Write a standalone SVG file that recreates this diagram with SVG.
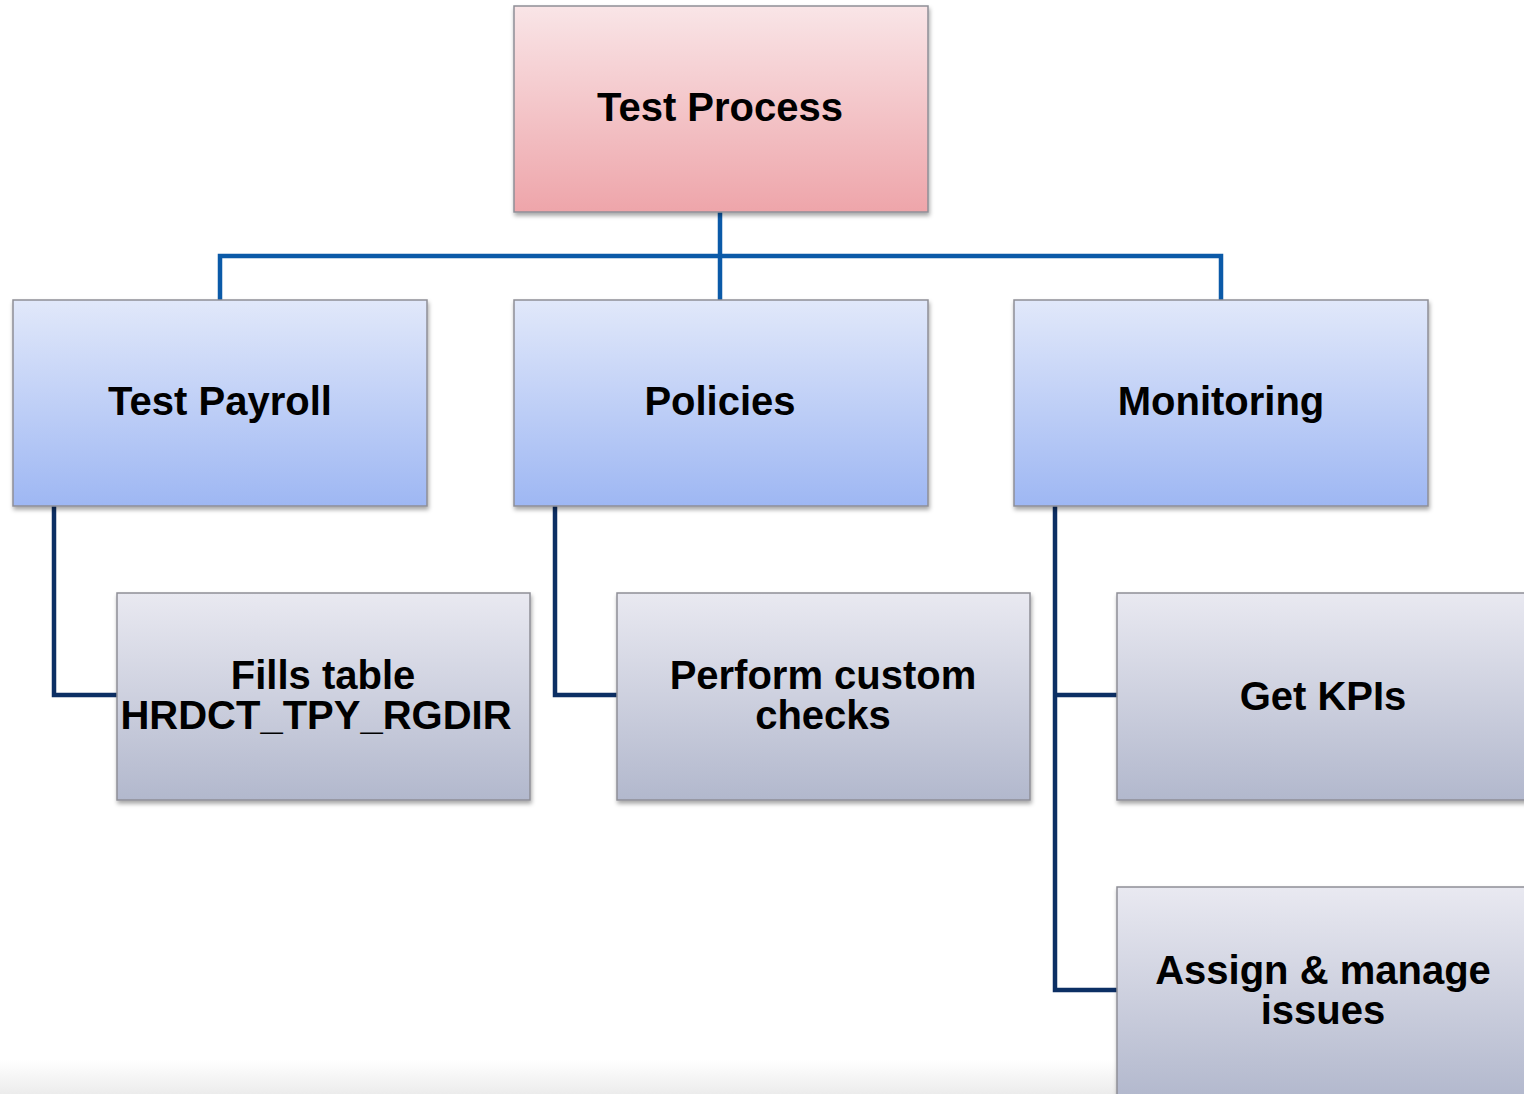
<svg xmlns="http://www.w3.org/2000/svg" width="1524" height="1094" viewBox="0 0 1524 1094">
<defs>
<linearGradient id="gPink" x1="0" y1="0" x2="0" y2="1"><stop offset="0" stop-color="#f9e5e7"/><stop offset="1" stop-color="#eea5aa"/></linearGradient>
<linearGradient id="gBlue" x1="0" y1="0" x2="0" y2="1"><stop offset="0" stop-color="#e1e8fa"/><stop offset="1" stop-color="#9eb7f3"/></linearGradient>
<linearGradient id="gGrey" x1="0" y1="0" x2="0" y2="1"><stop offset="0" stop-color="#e9e9f1"/><stop offset="1" stop-color="#b2b8cd"/></linearGradient>
<linearGradient id="gFloor" x1="0" y1="0" x2="0" y2="1"><stop offset="0" stop-color="#ffffff"/><stop offset="1" stop-color="#ececec"/></linearGradient>
<filter id="sh" x="-5%" y="-5%" width="112%" height="115%"><feDropShadow dx="1" dy="3" stdDeviation="2" flood-color="#000" flood-opacity="0.35"/></filter>
</defs>
<style>
.box{stroke:#8e8e96;stroke-width:1.5;filter:url(#sh)}
.lbl{font-family:"Liberation Sans",Arial,sans-serif;font-weight:bold;font-size:40px;fill:#000;text-anchor:middle}
.c1{fill:none;stroke:#0b5aa8;stroke-width:4.5}
.c2{fill:none;stroke:#0c2f64;stroke-width:4.5}
</style>
<rect x="0" y="0" width="1524" height="1094" fill="#ffffff"/>
<rect x="0" y="1060" width="1524" height="34" fill="url(#gFloor)"/>
<g id="connectors">
<path class="c1" d="M720 212 V300 M220 300 V256 H1221 V300"/>
<path class="c2" d="M54 506 V695 H117"/>
<path class="c2" d="M555 506 V695 H617"/>
<path class="c2" d="M1055 506 V990 H1117 M1055 695 H1117"/>
</g>
<g id="n-test-process"><rect class="box" x="514" y="6" width="414" height="206" fill="url(#gPink)"/><text class="lbl" x="720" y="121">Test Process</text></g>
<g id="n-test-payroll"><rect class="box" x="13" y="300" width="414" height="206" fill="url(#gBlue)"/><text class="lbl" x="220" y="415">Test Payroll</text></g>
<g id="n-policies"><rect class="box" x="514" y="300" width="414" height="206" fill="url(#gBlue)"/><text class="lbl" x="720" y="415">Policies</text></g>
<g id="n-monitoring"><rect class="box" x="1014" y="300" width="414" height="206" fill="url(#gBlue)"/><text class="lbl" x="1221" y="415">Monitoring</text></g>
<g id="n-fills"><rect class="box" x="117" y="593" width="413" height="207" fill="url(#gGrey)"/><text class="lbl" x="323" y="689">Fills table</text><text class="lbl" x="316" y="729">HRDCT_TPY_RGDIR</text></g>
<g id="n-perform"><rect class="box" x="617" y="593" width="413" height="207" fill="url(#gGrey)"/><text class="lbl" x="823" y="689">Perform custom</text><text class="lbl" x="823" y="729">checks</text></g>
<g id="n-kpis"><rect class="box" x="1117" y="593" width="413" height="207" fill="url(#gGrey)"/><text class="lbl" x="1323" y="710">Get KPIs</text></g>
<g id="n-assign"><rect class="box" x="1117" y="887" width="413" height="212" fill="url(#gGrey)"/><text class="lbl" x="1323" y="984">Assign &amp; manage</text><text class="lbl" x="1323" y="1024">issues</text></g>
</svg>
